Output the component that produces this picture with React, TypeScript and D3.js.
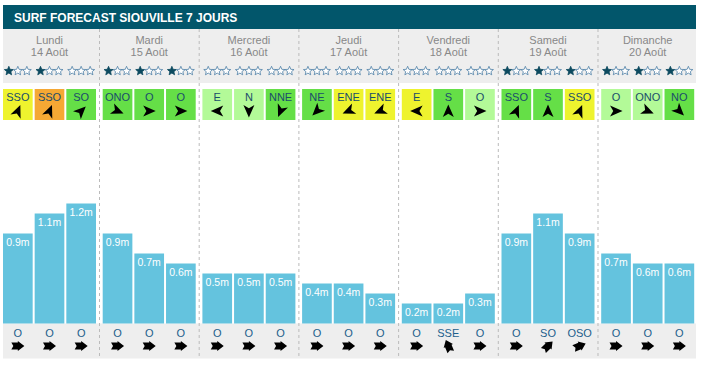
import React from 'react';
import * as d3 from 'd3';

const title = 'SURF FORECAST SIOUVILLE 7 JOURS';
const days = ['Lundi', 'Mardi', 'Mercredi', 'Jeudi', 'Vendredi', 'Samedi', 'Dimanche'];
const dates = ['14 Août', '15 Août', '16 Août', '17 Août', '18 Août', '19 Août', '20 Août'];
// stars per slot (out of 3)
const stars = [[1, 1, 0], [1, 1, 1], [0, 0, 0], [0, 0, 0], [0, 0, 0], [1, 1, 1], [1, 1, 1]];
const windDirs = [
  ['SSO', 'SSO', 'SO'], ['ONO', 'O', 'O'], ['E', 'N', 'NNE'], ['NE', 'ENE', 'ENE'],
  ['E', 'S', 'O'], ['SSO', 'S', 'SSO'], ['O', 'ONO', 'NO'],
];
// y = yellow, o = orange, g = green, l = light green
const windLevels = [
  ['y', 'o', 'g'], ['g', 'g', 'g'], ['l', 'l', 'g'], ['g', 'y', 'y'],
  ['y', 'g', 'l'], ['g', 'g', 'y'], ['l', 'l', 'g'],
];
const waveHeights = [
  [0.9, 1.1, 1.2], [0.9, 0.7, 0.6], [0.5, 0.5, 0.5], [0.4, 0.4, 0.3],
  [0.2, 0.2, 0.3], [0.9, 1.1, 0.9], [0.7, 0.6, 0.6],
];
const swellDirs = [
  ['O', 'O', 'O'], ['O', 'O', 'O'], ['O', 'O', 'O'], ['O', 'O', 'O'],
  ['O', 'SSE', 'O'], ['O', 'SO', 'OSO'], ['O', 'O', 'O'],
];

const compass = ['N', 'NNE', 'NE', 'ENE', 'E', 'ESE', 'SE', 'SSE', 'S', 'SSO', 'SO', 'OSO', 'O', 'ONO', 'NO', 'NNO'];
const bearing = (d: string) => compass.indexOf(d) * 22.5;

const windColor: Record<string, string> = { y: '#eef32e', o: '#f5a834', g: '#65df47', l: '#b3fa98' };

const FONT = 'Liberation Sans, Arial, sans-serif';
const W = 703, H = 367;

const starPath = (() => {
  const pts: string[] = [];
  for (let i = 0; i < 10; i++) {
    const r = i % 2 === 0 ? 4.7 : 2.1;
    const a = (Math.PI / 5) * i - Math.PI / 2;
    pts.push(`${(r * Math.cos(a)).toFixed(2)},${(r * Math.sin(a)).toFixed(2)}`);
  }
  return 'M' + pts.join('L') + 'Z';
})();

const windArrow = 'M0,-6.5L5.5,6L0,2.8L-5.5,6Z';
const swellArrow = 'M-6.5,-3.5L0,-3.5L0,-5L6.5,0L0,5L0,3.5L-6.5,3.5L-4.5,0Z';

export default function App() {
  const x = d3.scaleBand<string>().domain(days).range([3, 3 + 6 * 99.7 + 93]).paddingInner(6.7 / 99.7);
  const sub = d3.scaleBand<number>().domain([0, 1, 2]).range([0, x.bandwidth()]).paddingInner(0.063);
  const y = d3.scaleLinear().domain([0, 1.2]).range([323.5, 203.5]);

  return (
    <svg width={W} height={H} style={{ position: 'absolute', left: 0, top: 0, fontFamily: FONT }}>
      <rect x={3} y={5} width={693} height={24} fill="#02566b" />
      <text x={14} y={21.5} fill="#fff" fontSize={12} fontWeight="bold">{title}</text>
      <rect x={3} y={29} width={693} height={54} fill="#eeeeee" />
      <rect x={3} y={y(0)} width={693} height={35} fill="#eeeeee" />

      {days.map((d, i) => {
        const x0 = x(d)!;
        const cx = x0 + x.bandwidth() / 2;
        return (
          <g key={d}>
            {i > 0 && (
              <line x1={x0 - 3.2} x2={x0 - 3.2} y1={29} y2={359} stroke="#bbb" strokeDasharray="3,3" />
            )}
            <text x={cx} y={44} textAnchor="middle" fontSize={11} fill="#888">{d}</text>
            <text x={cx} y={56} textAnchor="middle" fontSize={11} fill="#888">{dates[i]}</text>
            {[0, 1, 2].map((j) => {
              const bx = x0 + sub(j)!;
              const bw = sub.bandwidth();
              const bc = bx + bw / 2;
              const h = waveHeights[i][j];
              return (
                <g key={j}>
                  {[0, 1, 2].map((k) => (
                    <path key={k} d={starPath} transform={`translate(${bc + (k - 1) * 9},${71})`}
                      fill={k < stars[i][j] ? '#0c4a5f' : '#fff'}
                      stroke={k < stars[i][j] ? '#0c4a5f' : '#4d7fa6'} strokeWidth={0.8} />
                  ))}
                  <rect x={bx} y={89} width={bw} height={31} fill={windColor[windLevels[i][j]]} />
                  <text x={bc} y={101} textAnchor="middle" fontSize={11} fill="#1a4d6b">{windDirs[i][j]}</text>
                  <path d={windArrow} transform={`translate(${bc},${111}) rotate(${bearing(windDirs[i][j]) + 180})`} fill="#000" />
                  <rect x={bx} y={y(h)} width={bw} height={y(0) - y(h)} fill="#64c3de" />
                  <text x={bc} y={y(h) + 12.5} textAnchor="middle" fontSize={10.5} fill="#fff">{`${h}m`}</text>
                  <text x={bc} y={336.5} textAnchor="middle" fontSize={11} fill="#1d5f8c">{swellDirs[i][j]}</text>
                  <path d={swellArrow} transform={`translate(${bc},${346}) rotate(${bearing(swellDirs[i][j]) + 90})`} fill="#000" />
                </g>
              );
            })}
          </g>
        );
      })}
    </svg>
  );
}
